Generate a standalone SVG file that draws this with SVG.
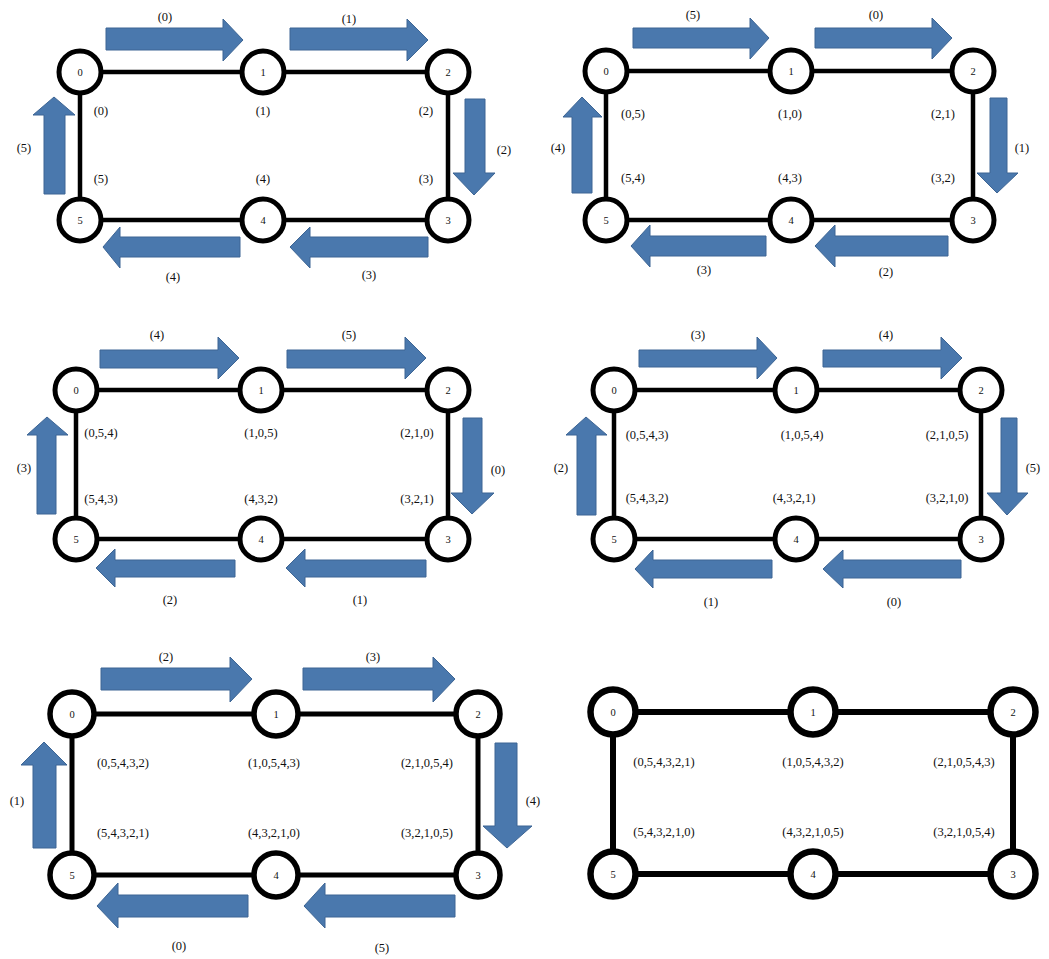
<svg xmlns="http://www.w3.org/2000/svg" width="1049" height="959" viewBox="0 0 1049 959">
<style>
text{font-family:"Liberation Serif","Times New Roman",serif;fill:#111;text-anchor:middle}
.lbl{font-size:12.5px}
.nl{font-size:10.5px}
.edge{stroke:#000;stroke-width:4.5;fill:none}
.node circle{fill:#fff;stroke:#000;stroke-width:5}
.arr{fill:#4a78ad;stroke:#3d6594;stroke-width:1}
#p5 .edge{stroke-width:5}
#p5 .node circle{stroke-width:5.5}
#p6 .edge{stroke-width:6}
#p6 .node circle{stroke-width:6.5}
</style>
<rect width="1049" height="959" fill="#fff"/>

<!-- Panel 1 -->
<g id="p1">
<g id="p1-arrows">
<polygon class="arr" points="106,28 223,28 223,19 243,40 223,61 223,50 106,50"/>
<polygon class="arr" points="290,28 407,28 407,19 428,40 407,61 407,50 290,50"/>
<polygon class="arr" points="465,99 485,99 485,173 495,173 474,195 453,173 465,173"/>
<polygon class="arr" points="240,237 120,237 120,227 103,247 120,268 120,257 240,257"/>
<polygon class="arr" points="428,237 310,237 310,227 290,247 310,268 310,257 428,257"/>
<polygon class="arr" points="44,194 44,115 33,115 54,97 75,115 65,115 65,194"/>
</g>
<g id="p1-connectors">
<line class="edge" x1="80" y1="72" x2="448" y2="72"/>
<line class="edge" x1="448" y1="72" x2="448" y2="220"/>
<line class="edge" x1="448" y1="220" x2="80" y2="220"/>
<line class="edge" x1="80" y1="220" x2="80" y2="72"/>
</g>
<g id="p1-n0" class="node"><circle cx="80" cy="72" r="21"/><text class="nl" x="80" y="75.5">0</text></g>
<g id="p1-n1" class="node"><circle cx="263" cy="72" r="21"/><text class="nl" x="263" y="75.5">1</text></g>
<g id="p1-n2" class="node"><circle cx="448" cy="72" r="21"/><text class="nl" x="448" y="75.5">2</text></g>
<g id="p1-n3" class="node"><circle cx="448" cy="220" r="21"/><text class="nl" x="448" y="223.5">3</text></g>
<g id="p1-n4" class="node"><circle cx="263" cy="220" r="21"/><text class="nl" x="263" y="223.5">4</text></g>
<g id="p1-n5" class="node"><circle cx="80" cy="220" r="21"/><text class="nl" x="80" y="223.5">5</text></g>
<g id="p1-labels" class="lbl">
<text x="165" y="21">(0)</text>
<text x="349" y="23">(1)</text>
<text x="504" y="154">(2)</text>
<text x="369" y="279">(3)</text>
<text x="173" y="281">(4)</text>
<text x="24" y="152">(5)</text>
<text x="101" y="115">(0)</text>
<text x="263" y="115">(1)</text>
<text x="426" y="115">(2)</text>
<text x="101" y="183">(5)</text>
<text x="263" y="183">(4)</text>
<text x="426" y="183">(3)</text>
</g>
</g>

<!-- Panel 2 -->
<g id="p2">
<g id="p2-arrows">
<polygon class="arr" points="633,28 750,28 750,18 769,38 750,59 750,48 633,48"/>
<polygon class="arr" points="815,28 932,28 932,18 952,38 932,59 932,48 815,48"/>
<polygon class="arr" points="990,98 1007,98 1007,173 1018,173 997,193 977,173 990,173"/>
<polygon class="arr" points="766,236 650,236 650,225 631,246 650,267 650,256 766,256"/>
<polygon class="arr" points="948,236 835,236 835,225 815,246 835,267 835,256 948,256"/>
<polygon class="arr" points="572,193 572,117 563,117 582,97 602,117 592,117 592,193"/>
</g>
<g id="p2-connectors">
<line class="edge" x1="606" y1="71" x2="973" y2="71"/>
<line class="edge" x1="973" y1="71" x2="973" y2="220"/>
<line class="edge" x1="973" y1="220" x2="606" y2="220"/>
<line class="edge" x1="606" y1="220" x2="606" y2="71"/>
</g>
<g id="p2-n0" class="node"><circle cx="606" cy="71" r="21"/><text class="nl" x="606" y="74.5">0</text></g>
<g id="p2-n1" class="node"><circle cx="791" cy="71" r="21"/><text class="nl" x="791" y="74.5">1</text></g>
<g id="p2-n2" class="node"><circle cx="973" cy="71" r="21"/><text class="nl" x="973" y="74.5">2</text></g>
<g id="p2-n3" class="node"><circle cx="973" cy="220" r="21"/><text class="nl" x="973" y="223.5">3</text></g>
<g id="p2-n4" class="node"><circle cx="791" cy="220" r="21"/><text class="nl" x="791" y="223.5">4</text></g>
<g id="p2-n5" class="node"><circle cx="606" cy="220" r="21"/><text class="nl" x="606" y="223.5">5</text></g>
<g id="p2-labels" class="lbl">
<text x="693" y="19">(5)</text>
<text x="876" y="19">(0)</text>
<text x="1022" y="152">(1)</text>
<text x="886" y="276">(2)</text>
<text x="704" y="274">(3)</text>
<text x="558" y="152">(4)</text>
<text x="633" y="118">(0,5)</text>
<text x="790" y="118">(1,0)</text>
<text x="943" y="118">(2,1)</text>
<text x="633" y="182">(5,4)</text>
<text x="790" y="182">(4,3)</text>
<text x="943" y="182">(3,2)</text>
</g>
</g>

<!-- Panel 3 -->
<g id="p3">
<g id="p3-arrows">
<polygon class="arr" points="100,350 218,350 218,337 239,358 218,379 218,368 100,368"/>
<polygon class="arr" points="287,350 405,350 405,337 426,358 405,379 405,368 287,368"/>
<polygon class="arr" points="463,418 482,418 482,493 494,493 472,514 451,493 463,493"/>
<polygon class="arr" points="235,560 115,560 115,549 96,568 115,587 115,577 235,577"/>
<polygon class="arr" points="426,560 305,560 305,549 286,568 305,587 305,577 426,577"/>
<polygon class="arr" points="37,514 37,435 27,435 47,417 68,435 56,435 56,514"/>
</g>
<g id="p3-connectors">
<line class="edge" x1="76" y1="390" x2="448" y2="390"/>
<line class="edge" x1="448" y1="390" x2="448" y2="539"/>
<line class="edge" x1="448" y1="539" x2="76" y2="539"/>
<line class="edge" x1="76" y1="539" x2="76" y2="390"/>
</g>
<g id="p3-n0" class="node"><circle cx="76" cy="390" r="21"/><text class="nl" x="76" y="393.5">0</text></g>
<g id="p3-n1" class="node"><circle cx="261" cy="390" r="21"/><text class="nl" x="261" y="393.5">1</text></g>
<g id="p3-n2" class="node"><circle cx="448" cy="390" r="21"/><text class="nl" x="448" y="393.5">2</text></g>
<g id="p3-n3" class="node"><circle cx="448" cy="539" r="21"/><text class="nl" x="448" y="542.5">3</text></g>
<g id="p3-n4" class="node"><circle cx="261" cy="539" r="21"/><text class="nl" x="261" y="542.5">4</text></g>
<g id="p3-n5" class="node"><circle cx="76" cy="539" r="21"/><text class="nl" x="76" y="542.5">5</text></g>
<g id="p3-labels" class="lbl">
<text x="157" y="339">(4)</text>
<text x="349" y="339">(5)</text>
<text x="498" y="474">(0)</text>
<text x="360" y="604">(1)</text>
<text x="170" y="604">(2)</text>
<text x="24" y="472">(3)</text>
<text x="101" y="437">(0,5,4)</text>
<text x="261" y="437">(1,0,5)</text>
<text x="417" y="437">(2,1,0)</text>
<text x="101" y="503">(5,4,3)</text>
<text x="261" y="503">(4,3,2)</text>
<text x="417" y="503">(3,2,1)</text>
</g>
</g>

<!-- Panel 4 -->
<g id="p4">
<g id="p4-arrows">
<polygon class="arr" points="639,350 757,350 757,337 777,358 757,379 757,367 639,367"/>
<polygon class="arr" points="823,350 941,350 941,337 962,358 941,379 941,367 823,367"/>
<polygon class="arr" points="1001,418 1017,418 1017,493 1028,493 1007,515 987,493 1001,493"/>
<polygon class="arr" points="772,560 653,560 653,550 635,569 653,588 653,578 772,578"/>
<polygon class="arr" points="961,560 843,560 843,550 823,569 843,588 843,578 961,578"/>
<polygon class="arr" points="577,515 577,435 566,435 586,417 607,435 596,435 596,515"/>
</g>
<g id="p4-connectors">
<line class="edge" x1="614" y1="390" x2="981" y2="390"/>
<line class="edge" x1="981" y1="390" x2="981" y2="539"/>
<line class="edge" x1="981" y1="539" x2="614" y2="539"/>
<line class="edge" x1="614" y1="539" x2="614" y2="390"/>
</g>
<g id="p4-n0" class="node"><circle cx="614" cy="390" r="21"/><text class="nl" x="614" y="393.5">0</text></g>
<g id="p4-n1" class="node"><circle cx="796" cy="390" r="21"/><text class="nl" x="796" y="393.5">1</text></g>
<g id="p4-n2" class="node"><circle cx="981" cy="390" r="21"/><text class="nl" x="981" y="393.5">2</text></g>
<g id="p4-n3" class="node"><circle cx="981" cy="539" r="21"/><text class="nl" x="981" y="542.5">3</text></g>
<g id="p4-n4" class="node"><circle cx="796" cy="539" r="21"/><text class="nl" x="796" y="542.5">4</text></g>
<g id="p4-n5" class="node"><circle cx="614" cy="539" r="21"/><text class="nl" x="614" y="542.5">5</text></g>
<g id="p4-labels" class="lbl">
<text x="698" y="339">(3)</text>
<text x="886" y="339">(4)</text>
<text x="1033" y="472">(5)</text>
<text x="894" y="606">(0)</text>
<text x="711" y="606">(1)</text>
<text x="561" y="472">(2)</text>
<text x="647" y="439">(0,5,4,3)</text>
<text x="802" y="439">(1,0,5,4)</text>
<text x="947" y="439">(2,1,0,5)</text>
<text x="647" y="502">(5,4,3,2)</text>
<text x="794" y="502">(4,3,2,1)</text>
<text x="947" y="502">(3,2,1,0)</text>
</g>
</g>

<!-- Panel 5 -->
<g id="p5">
<g id="p5-arrows">
<polygon class="arr" points="101,668 230,668 230,657 252,679 230,702 230,690 101,690"/>
<polygon class="arr" points="303,668 433,668 433,657 455,679 433,702 433,690 303,690"/>
<polygon class="arr" points="495,743 517,743 517,826 532,826 507,848 483,826 495,826"/>
<polygon class="arr" points="248,895 118,895 118,883 97,906 118,928 118,917 248,917"/>
<polygon class="arr" points="455,895 325,895 325,883 304,906 325,928 325,917 455,917"/>
<polygon class="arr" points="33,848 33,765 21,765 44,742 67,765 56,765 56,848"/>
</g>
<g id="p5-connectors">
<line class="edge" x1="72" y1="714" x2="478" y2="714"/>
<line class="edge" x1="478" y1="714" x2="478" y2="875"/>
<line class="edge" x1="478" y1="875" x2="72" y2="875"/>
<line class="edge" x1="72" y1="875" x2="72" y2="714"/>
</g>
<g id="p5-n0" class="node"><circle cx="72" cy="714" r="22"/><text class="nl" x="72" y="717.5">0</text></g>
<g id="p5-n1" class="node"><circle cx="276" cy="714" r="22"/><text class="nl" x="276" y="717.5">1</text></g>
<g id="p5-n2" class="node"><circle cx="478" cy="714" r="22"/><text class="nl" x="478" y="717.5">2</text></g>
<g id="p5-n3" class="node"><circle cx="478" cy="875" r="22"/><text class="nl" x="478" y="878.5">3</text></g>
<g id="p5-n4" class="node"><circle cx="276" cy="875" r="22"/><text class="nl" x="276" y="878.5">4</text></g>
<g id="p5-n5" class="node"><circle cx="72" cy="875" r="22"/><text class="nl" x="72" y="878.5">5</text></g>
<g id="p5-labels" class="lbl">
<text x="166" y="661">(2)</text>
<text x="373" y="661">(3)</text>
<text x="533" y="805">(4)</text>
<text x="382" y="952">(5)</text>
<text x="179" y="950">(0)</text>
<text x="17" y="805">(1)</text>
<text x="123" y="767">(0,5,4,3,2)</text>
<text x="274" y="767">(1,0,5,4,3)</text>
<text x="427" y="767">(2,1,0,5,4)</text>
<text x="123" y="837">(5,4,3,2,1)</text>
<text x="274" y="837">(4,3,2,1,0)</text>
<text x="427" y="837">(3,2,1,0,5)</text>
</g>
</g>

<!-- Panel 6 -->
<g id="p6">
<g id="p6-connectors">
<line class="edge" x1="613" y1="712" x2="1013" y2="712"/>
<line class="edge" x1="1013" y1="712" x2="1013" y2="874"/>
<line class="edge" x1="1013" y1="874" x2="613" y2="874"/>
<line class="edge" x1="613" y1="874" x2="613" y2="712"/>
</g>
<g id="p6-n0" class="node"><circle cx="613" cy="712" r="22.5"/><text class="nl" x="613" y="715.5">0</text></g>
<g id="p6-n1" class="node"><circle cx="813" cy="712" r="22.5"/><text class="nl" x="813" y="715.5">1</text></g>
<g id="p6-n2" class="node"><circle cx="1013" cy="712" r="22.5"/><text class="nl" x="1013" y="715.5">2</text></g>
<g id="p6-n3" class="node"><circle cx="1013" cy="874" r="22.5"/><text class="nl" x="1013" y="877.5">3</text></g>
<g id="p6-n4" class="node"><circle cx="813" cy="874" r="22.5"/><text class="nl" x="813" y="877.5">4</text></g>
<g id="p6-n5" class="node"><circle cx="613" cy="874" r="22.5"/><text class="nl" x="613" y="877.5">5</text></g>
<g id="p6-labels" class="lbl">
<text x="664" y="766">(0,5,4,3,2,1)</text>
<text x="813" y="766">(1,0,5,4,3,2)</text>
<text x="964" y="766">(2,1,0,5,4,3)</text>
<text x="664" y="836">(5,4,3,2,1,0)</text>
<text x="813" y="836">(4,3,2,1,0,5)</text>
<text x="964" y="836">(3,2,1,0,5,4)</text>
</g>
</g>
</svg>
